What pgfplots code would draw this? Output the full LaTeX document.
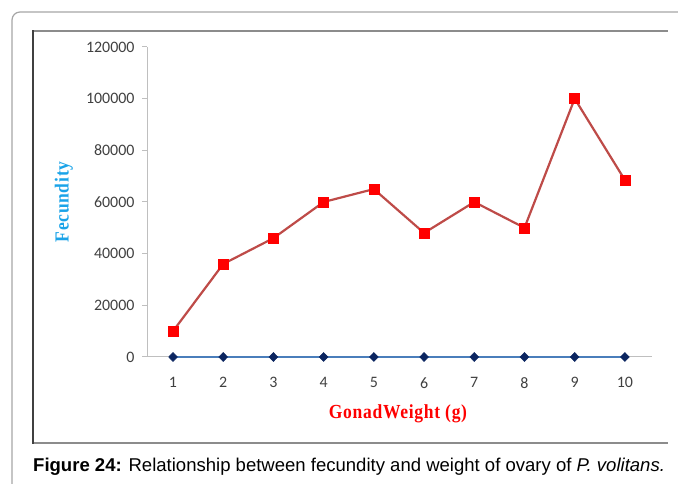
\documentclass[border=0pt]{standalone}
\usepackage{pgfplots}
\pgfplotsset{compat=1.18}
\usepackage{fontspec}
\setmainfont{Liberation Sans}
\newfontfamily\tickfont{Carlito}
\newfontfamily\labelfont[LetterSpace=4]{Liberation Serif}

\definecolor{axisgrey}{HTML}{BFBFBF}
\definecolor{tickgrey}{HTML}{404040}
\definecolor{outergrey}{HTML}{A6A6A6}
\definecolor{framegrey}{HTML}{8C8C8C}
\definecolor{framedark}{HTML}{404040}
\definecolor{labelblue}{HTML}{1AA3E8}
\definecolor{blueline}{HTML}{4A7EBB}
\definecolor{navy}{HTML}{0B2560}
\definecolor{redline}{HTML}{BE4B48}

% narrow bold serif used for the axis titles
\newcommand\axistitle[1]{\scalebox{0.88}[1]{\labelfont\bfseries #1}}

\begin{document}
\begin{tikzpicture}[x=1bp,y=1bp]
\useasboundingbox (0,0) rectangle (678,484);
% page border with rounded corner
\begin{scope}
  \clip (0,0) rectangle (678,484);
  \draw[outergrey, line width=1.2bp, rounded corners=8bp] (12,-20) -- (12,472) -- (720,472);
\end{scope}
% chart frame
\draw[framegrey, line width=1.4bp] (33,453) -- (668,453);
\draw[framegrey, line width=1.4bp] (33,41) -- (668,41);
\draw[framedark, line width=1.6bp] (33,453.7) -- (33,40.3);
% caption
\node[anchor=west, inner sep=0pt, font=\fontsize{18.6}{22}\selectfont] at (33,17)
  {\textbf{Figure 24:} Relationship between fecundity and weight of ovary of \textit{P. volitans.}};

\begin{axis}[
  at={(147bp,127bp)}, anchor=south west,
  scale only axis, width=505bp, height=310bp,
  xmin=0.482, xmax=10.54, ymin=0, ymax=120000,
  axis x line*=bottom, axis y line*=left,
  axis line style={axisgrey, line width=1bp, -},
  xtick={1,2,...,10},
  ytick={0,20000,...,120000},
  scaled y ticks=false,
  /pgf/number format/.cd, fixed, 1000 sep={}, assume math mode=true,
  /pgfplots/.cd,
  tick align=outside,
  major tick length=5bp,
  xtick style={draw=none},
  ytick style={axisgrey, line width=1bp},
  tick label style={font=\tickfont\fontsize{16}{19}\selectfont, text=tickgrey},
  x tick label style={yshift=-12bp},
  y tick label style={xshift=-4bp},
  xlabel={\axistitle{GonadWeight (g)}},
  ylabel={\axistitle{Fecundity}},
  xlabel style={at={(axis description cs:0.497,-0.184)}, anchor=center,
    text=red, font=\fontsize{20}{23}\selectfont},
  ylabel style={at={(axis description cs:-0.1644,0.5)}, anchor=center,
    text=labelblue, font=\fontsize{20}{23}\selectfont},
  clip=false,
]
\addplot[color=blueline, line width=2bp, mark=diamond*, mark size=4.5bp,
  mark options={fill=navy, draw=navy, line width=0.5bp, xscale=1.3}]
  coordinates {(1,0) (2,0) (3,0) (4,0) (5,0) (6,0) (7,0) (8,0) (9,0) (10,0)};
\addplot[color=redline, line width=2.2bp, mark=square*, mark size=5bp,
  mark options={fill=red, draw=red, line width=0.5bp}]
  coordinates {(1,10000) (2,36000) (3,46000) (4,60000) (5,65000)
               (6,48000) (7,60000) (8,50000) (9,100000) (10,68500)};
\end{axis}
\end{tikzpicture}
\end{document}
